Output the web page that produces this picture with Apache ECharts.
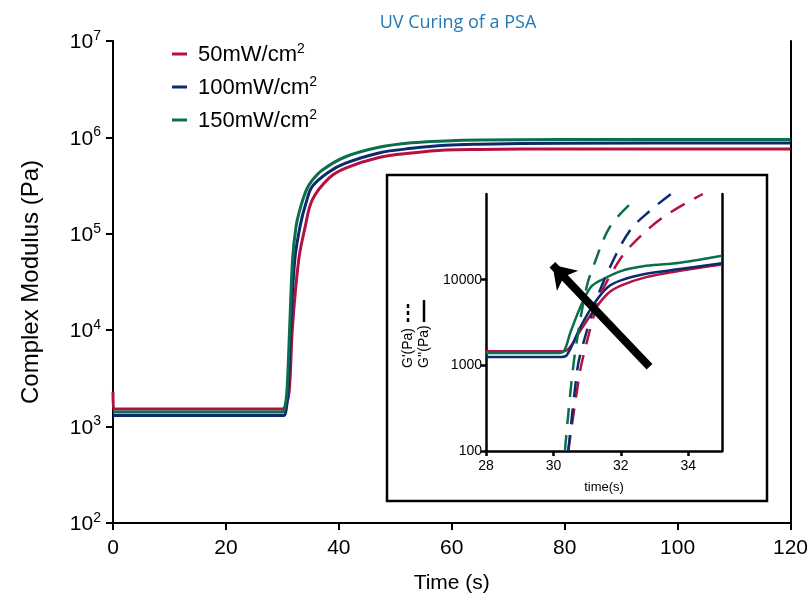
<!DOCTYPE html>
<html>
<head>
<meta charset="utf-8">
<script src="https://cdn.jsdelivr.net/npm/echarts@6/dist/echarts.min.js"></script>
<style>html,body{margin:0;padding:0;background:#fff}#c{width:811px;height:599px}</style>
</head>
<body>
<div id="c"></div>
<script>
// ---------- data ----------
var titleText = 'UV Curing of a PSA';
var seriesNames = ['50mW/cm2', '100mW/cm2', '150mW/cm2'];
var seriesColors = ['#b1123f', '#0c2b6e', '#0b6e4c'];
var xTicks = [0, 20, 40, 60, 80, 100, 120];

// main chart: complex modulus (Pa) vs time (s)
var redTime = [0, 0.1, 10, 20, 30.0, 30.6, 31.2, 31.8, 32.9, 34.0, 35.3, 38.3, 41.2, 47.1, 52.9, 58.9, 64.8, 80, 120];
var redVal = [2300, 1520, 1520, 1520, 1520, 1650, 2300, 11000, 54000, 115000, 225000, 380000, 480000, 620000, 690000, 740000, 750000, 760000, 760000];
var navyTime = [0, 10, 20, 30.2, 30.6, 31.0, 31.5, 32.2, 33.2, 34.2, 35.3, 38.3, 41.2, 47.1, 52.9, 58.9, 64.8, 80, 120];
var navyVal = [1300, 1300, 1300, 1300, 1420, 2300, 11000, 54000, 125000, 210000, 310000, 440000, 540000, 690000, 770000, 830000, 850000, 870000, 875000];
var greenTime = [0, 10, 20, 30.0, 30.4, 30.8, 31.3, 31.8, 32.4, 33.0, 34.2, 35.3, 37.1, 41.2, 47.1, 52.9, 58.9, 64.8, 80, 120];
var greenVal = [1420, 1420, 1420, 1420, 1550, 2300, 11000, 54000, 117000, 170000, 280000, 360000, 460000, 630000, 790000, 880000, 920000, 940000, 950000, 950000];

// inset: G'' (solid) and G' (dashed), 28-35 s
var insetXTicks = [28, 30, 32, 34];
var insetYTicks = [100, 1000, 10000];
var redG2Time = [28, 30.2, 30.4, 30.8, 31.2, 31.6, 32.0, 32.75, 33.75, 35];
var redG2Val = [1456, 1456, 1500, 2550, 4360, 6800, 8500, 10700, 12700, 15000];
var navyG2Time = [28, 30.2, 30.4, 30.8, 31.2, 31.6, 32.0, 32.75, 33.75, 35];
var navyG2Val = [1250, 1250, 1320, 2800, 5200, 8100, 9800, 11700, 13300, 15500];
var greenG2Time = [28, 30.1, 30.3, 30.5, 30.8, 31.1, 31.4, 32.0, 32.75, 33.75, 35];
var greenG2Val = [1390, 1390, 1450, 2400, 4800, 8100, 9800, 12600, 14500, 15800, 19000];
var redG1Time = [30.44, 30.73, 30.88, 31.37, 31.76, 32.26, 33.24, 34.43];
var redG1Val = [100, 610, 1250, 6200, 12600, 24000, 53000, 100000];
var navyG1Time = [30.44, 30.68, 30.78, 31.27, 31.67, 32.26, 32.85, 33.49];
var navyG1Val = [100, 730, 1260, 5700, 13800, 37000, 63000, 100000];
var greenG1Time = [30.34, 30.53, 30.68, 30.98, 31.17, 31.67, 32.3];
var greenG1Val = [100, 610, 1780, 8100, 13800, 41000, 78000];
// arrow annotation (tail -> head) in inset data units
var arrowTail = [32.85, 960];
var arrowHead = [29.97, 14900];

function pairs(t, v) { return t.map(function (x, i) { return [x, v[i]]; }); }

var FONT = '"Liberation Sans", Arial, sans-serif';
var chart = echarts.init(document.getElementById('c'), null, { renderer: 'canvas' });

function supFmt(v) {
  var e = Math.round(Math.log10(v));
  return '{b|10}{s|' + e + '}';
}

var mainSeries = [
  { name: seriesNames[0], t: redTime, v: redVal, c: seriesColors[0] },
  { name: seriesNames[1], t: navyTime, v: navyVal, c: seriesColors[1] },
  { name: seriesNames[2], t: greenTime, v: greenVal, c: seriesColors[2] }
].map(function (s) {
  return {
    name: s.name, type: 'line', xAxisIndex: 0, yAxisIndex: 0,
    data: pairs(s.t, s.v), showSymbol: false, symbol: 'none',
    smooth: 0.35,
    lineStyle: { color: s.c, width: 3 }, itemStyle: { color: s.c }, z: 3
  };
});

function insetSeries(t, v, c, dashed, extra) {
  var s = {
    type: 'line', xAxisIndex: 1, yAxisIndex: 2, data: pairs(t, v),
    showSymbol: false, symbol: 'none', smooth: 0.35,
    lineStyle: { color: c, width: 2.5, type: dashed ? [16, 11] : 'solid' },
    itemStyle: { color: c }, z: 4, clip: true
  };
  if (extra) for (var k in extra) s[k] = extra[k];
  return s;
}

var series = mainSeries.concat([
  insetSeries(redG2Time, redG2Val, seriesColors[0], false),
  insetSeries(navyG2Time, navyG2Val, seriesColors[1], false),
  insetSeries(greenG2Time, greenG2Val, seriesColors[2], false),
  insetSeries(redG1Time, redG1Val, seriesColors[0], true),
  insetSeries(navyG1Time, navyG1Val, seriesColors[1], true),
  insetSeries(greenG1Time, greenG1Val, seriesColors[2], true, {
    markLine: {
      silent: true, symbol: ['none', 'arrow'], symbolSize: [22, 22],
      label: { show: false },
      lineStyle: { color: '#000', width: 8, type: 'solid' },
      data: [[{ coord: arrowTail }, { coord: arrowHead }]]
    }
  })
]);

var axisLineStyle = { color: '#000', width: 2 };

var option = {
  animation: false,
  backgroundColor: '#fff',
  title: {
    text: titleText, left: 453, top: 9, textAlign: 'center',
    textStyle: { color: '#2479b5', fontSize: 18, fontWeight: 'normal', fontFamily: '"Open Sans", sans-serif' }
  },
  legend: {
    data: seriesNames, orient: 'vertical', left: 167, top: 37,
    icon: 'rect', itemWidth: 15, itemHeight: 3, itemGap: 9,
    formatter: function (n) { return '{b|' + n.slice(0, -1) + '}{s|2}'; },
    textStyle: {
      fontFamily: FONT, color: '#000', padding: [0, 0, 0, 6],
      rich: {
        b: { fontSize: 22, lineHeight: 24, fontFamily: FONT, color: '#000', verticalAlign: 'bottom' },
        s: { fontSize: 14, fontFamily: FONT, color: '#000', verticalAlign: 'top' }
      }
    }
  },
  grid: [
    { left: 113, right: 18, top: 41, bottom: 69, containLabel: false },
    { left: 486, right: 89, top: 194, bottom: 148, containLabel: false }
  ],
  xAxis: [
    {
      gridIndex: 0, type: 'value', min: 0, max: 120, interval: 20,
      name: 'Time (s)', nameLocation: 'middle', nameGap: 50,
      nameTextStyle: { fontFamily: FONT, fontSize: 21, color: '#000' },
      axisLine: { lineStyle: axisLineStyle },
      axisTick: { show: true, length: 7, inside: false, lineStyle: axisLineStyle },
      axisLabel: { fontFamily: FONT, fontSize: 21, color: '#000', margin: 15, showMaxLabel: true },
      splitLine: { show: false }
    },
    {
      gridIndex: 1, type: 'value', min: 28, max: 35,
      name: 'time(s)', nameLocation: 'middle', nameGap: 30,
      nameTextStyle: { fontFamily: FONT, fontSize: 13, color: '#000' },
      axisLine: { lineStyle: { color: '#000', width: 2.5 } },
      axisTick: { show: true, length: 5, customValues: insetXTicks, lineStyle: { color: '#000', width: 2.5 } },
      axisLabel: { fontFamily: FONT, fontSize: 14, color: '#000', margin: 8, customValues: insetXTicks },
      splitLine: { show: false }
    }
  ],
  yAxis: [
    {
      gridIndex: 0, type: 'log', logBase: 10, min: 100, max: 10000000,
      name: 'Complex Modulus (Pa)', nameLocation: 'middle', nameGap: 70,
      nameTextStyle: { fontFamily: FONT, fontSize: 24, color: '#000' },
      axisLine: { show: true, lineStyle: axisLineStyle },
      axisTick: { show: true, length: 7, lineStyle: axisLineStyle },
      axisLabel: {
        formatter: supFmt, margin: 12,
        rich: {
          b: { fontSize: 21, lineHeight: 24, fontFamily: FONT, color: '#000', verticalAlign: 'bottom' },
          s: { fontSize: 14, fontFamily: FONT, color: '#000', verticalAlign: 'top' }
        }
      },
      splitLine: { show: false }, minorTick: { show: false }
    },
    {
      gridIndex: 0, type: 'log', logBase: 10, min: 100, max: 10000000, position: 'right',
      axisLine: { show: true, lineStyle: axisLineStyle },
      axisTick: { show: false }, axisLabel: { show: false }, splitLine: { show: false }
    },
    {
      gridIndex: 1, type: 'log', logBase: 10, min: 100, max: 100000,
      axisLine: { show: true, lineStyle: { color: '#000', width: 2.5 } },
      axisTick: { show: true, length: 5, customValues: insetYTicks, lineStyle: { color: '#000', width: 2.5 } },
      axisLabel: {
        fontFamily: FONT, fontSize: 14, color: '#000', margin: 4, customValues: insetYTicks,
        formatter: function (v) { return String(Math.round(v)); }
      },
      splitLine: { show: false }
    },
    {
      gridIndex: 1, type: 'log', logBase: 10, min: 100, max: 100000, position: 'right',
      axisLine: { show: true, lineStyle: { color: '#000', width: 2.5 } },
      axisTick: { show: false }, axisLabel: { show: false }, splitLine: { show: false }
    }
  ],
  graphic: [
    {
      type: 'rect', shape: { x: 387, y: 175, width: 380, height: 326 },
      style: { fill: 'none', stroke: '#000', lineWidth: 2.5 }, z: 1
    },
    {
      type: 'group', x: 408, y: 368, rotation: Math.PI / 2, z: 5,
      children: [
        { type: 'text', x: 0, y: 0, style: { text: "G'(Pa)", fontFamily: FONT, fontSize: 14, fill: '#000', align: 'left', verticalAlign: 'middle' } },
        { type: 'line', shape: { x1: 46, y1: 0, x2: 66, y2: 0 }, style: { stroke: '#000', lineWidth: 2.5, lineDash: [4, 3] } }
      ]
    },
    {
      type: 'group', x: 424, y: 368, rotation: Math.PI / 2, z: 5,
      children: [
        { type: 'text', x: 0, y: 0, style: { text: "G''(Pa)", fontFamily: FONT, fontSize: 14, fill: '#000', align: 'left', verticalAlign: 'middle' } },
        { type: 'line', shape: { x1: 46, y1: 0, x2: 68, y2: 0 }, style: { stroke: '#000', lineWidth: 2.5 } }
      ]
    }
  ],
  series: series
};
chart.setOption(option);
</script>
</body>
</html>
